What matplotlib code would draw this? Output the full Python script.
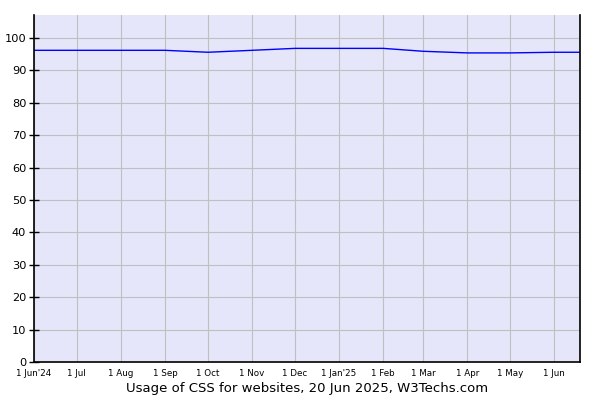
import matplotlib
matplotlib.use('Agg')
import matplotlib.pyplot as plt
import numpy as np

# monthly readings, percent of websites using CSS
dates = np.array(['2024-06-01', '2024-07-01', '2024-08-01', '2024-09-01',
                  '2024-10-01', '2024-11-01', '2024-12-01', '2025-01-01',
                  '2025-02-01', '2025-03-01', '2025-04-01', '2025-05-01',
                  '2025-06-01', '2025-06-20'], dtype='datetime64[D]')
usage = [96.2, 96.2, 96.2, 96.2, 95.6, 96.2, 96.8, 96.8,
         96.8, 95.9, 95.4, 95.4, 95.6, 95.6]

tick_dates = np.array(['2024-06-01', '2024-07-01', '2024-08-01', '2024-09-01',
                       '2024-10-01', '2024-11-01', '2024-12-01', '2025-01-01',
                       '2025-02-01', '2025-03-01', '2025-04-01', '2025-05-01',
                       '2025-06-01'], dtype='datetime64[D]')
tick_labels = ["1 Jun'24", '1 Jul', '1 Aug', '1 Sep', '1 Oct', '1 Nov', '1 Dec',
               "1 Jan'25", '1 Feb', '1 Mar', '1 Apr', '1 May', '1 Jun']
y_ticks = list(range(0, 101, 10))

fig = plt.figure(figsize=(6, 4), dpi=100)
ax = fig.add_axes([34/600, 38/400, 546/600, 347/400])
ax.set_facecolor('#e6e6fa')

ax.plot(dates, usage, color='#0000ff', linewidth=1)

ax.set_xlim(np.datetime64('2024-06-01'), np.datetime64('2025-06-19'))
ax.set_ylim(0, 107.1)

ax.set_xticks(tick_dates)
ax.set_xticklabels(tick_labels, fontsize=6.3)
ax.set_yticks(y_ticks)
ax.tick_params(axis='y', labelsize=8.2, direction='inout', length=7, width=1, pad=2)
ax.tick_params(axis='x', length=0, pad=5)
ax.grid(True, color='#c0c0c0', linewidth=0.8)
ax.set_axisbelow(True)

ax.spines['top'].set_visible(False)
for s in ['left', 'bottom', 'right']:
    ax.spines[s].set_linewidth(1.2)
    ax.spines[s].set_color('black')

ax.set_xlabel('Usage of CSS for websites, 20 Jun 2025, W3Techs.com', fontsize=9.5, labelpad=3)

fig.savefig('out.png', dpi=100)
